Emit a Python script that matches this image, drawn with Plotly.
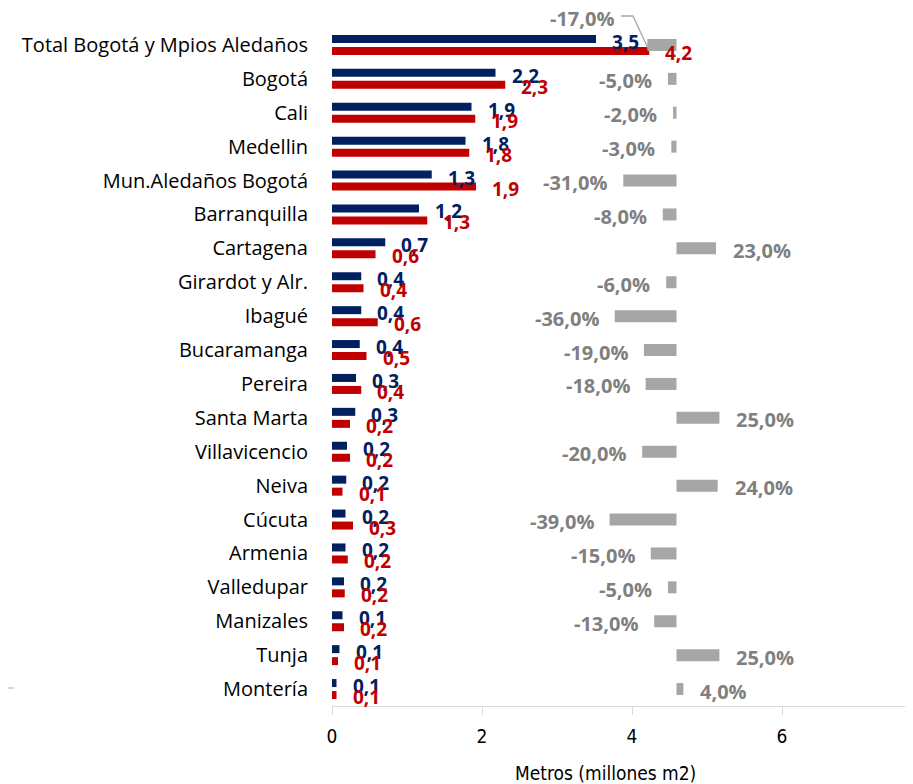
import plotly.graph_objects as go

categories = ["Total Bogotá y Mpios Aledaños", "Bogotá", "Cali", "Medellin",
              "Mun.Aledaños Bogotá", "Barranquilla", "Cartagena", "Girardot y Alr.",
              "Ibagué", "Bucaramanga", "Pereira", "Santa Marta", "Villavicencio",
              "Neiva", "Cúcuta", "Armenia", "Valledupar", "Manizales", "Tunja", "Montería"]
serie_azul = [3.52, 2.18, 1.86, 1.78, 1.33, 1.16, 0.71, 0.39, 0.39, 0.37,
              0.32, 0.31, 0.20, 0.19, 0.18, 0.18, 0.16, 0.14, 0.10, 0.06]
serie_roja = [4.23, 2.31, 1.91, 1.83, 1.92, 1.27, 0.58, 0.42, 0.61, 0.46,
              0.39, 0.24, 0.24, 0.14, 0.28, 0.21, 0.17, 0.16, 0.08, 0.06]
variacion = [-17, -5, -2, -3, -31, -8, 23, -6, -36, -19,
             -18, 25, -20, 24, -39, -15, -5, -13, 25, 4]
x_ticks = [0, 2, 4, 6]
x_title = "Metros (millones m2)"

AZUL = "#002060"
ROJO = "#C00000"
GRIS_BAR = "#A6A6A6"
GRIS_TXT = "#7F7F7F"
FONT = "Open Sans, Noto Sans, DejaVu Sans, sans-serif"
NARROW = "Liberation Sans Narrow, DejaVu Sans Condensed, Arial Narrow, sans-serif"

# the page body adds an 8px offset; work in screen pixels and subtract it
OFF = 8
SCR_W, SCR_H = 913, 784
PLOT_L, PLOT_R, PLOT_T, PLOT_B = 332, 913, 28, 706   # screen pixels
W, H = SCR_W - OFF, SCR_H - OFF
L = PLOT_L - OFF
R = SCR_W - PLOT_R
T = PLOT_T - OFF
B = SCR_H - PLOT_B
plot_w = PLOT_R - PLOT_L
plot_h = PLOT_B - PLOT_T
row_px = plot_h / len(categories)
px_per_unit = 75.0
PCT_ZERO = 676.5
pct_zero_px = PCT_ZERO - PLOT_L
px_per_pct = 1.716

def px_x(sx):
    return (sx - PLOT_L) / plot_w

def px_y(sy):
    return (PLOT_B - sy) / plot_h

fig = go.Figure()
fig.add_trace(go.Bar(y=categories, x=serie_azul, orientation="h", marker_color=AZUL,
                     offset=-10 / row_px, width=8 / row_px, name="azul",
                     marker_line_width=0, hoverinfo="x+y"))
fig.add_trace(go.Bar(y=categories, x=serie_roja, orientation="h", marker_color=ROJO,
                     offset=2 / row_px, width=8 / row_px, name="roja",
                     marker_line_width=0, hoverinfo="x+y"))
fig.add_trace(go.Bar(y=categories, x=variacion, orientation="h", marker_color=GRIS_BAR,
                     offset=-6 / row_px, width=12 / row_px, xaxis="x2", name="var",
                     marker_line_width=0, hoverinfo="x+y"))

def fmt(v, dec=1):
    return f"{v:.{dec}f}".replace(".", ",")

annotations = []
shapes = []
for i, cat in enumerate(categories):
    annotations.append(dict(x=serie_azul[i], y=cat, xref="x", yref="y", text=fmt(serie_azul[i]),
                            showarrow=False, xanchor="left", yanchor="middle", xshift=14, yshift=3,
                            font=dict(family=FONT, size=19, color=AZUL, weight="bold")))
    annotations.append(dict(x=serie_roja[i], y=cat, xref="x", yref="y", text=fmt(serie_roja[i]),
                            showarrow=False, xanchor="left", yanchor="middle", xshift=14, yshift=-8,
                            font=dict(family=FONT, size=19, color=ROJO, weight="bold")))
    v = variacion[i]
    txt = fmt(v) + "%"
    gfont = dict(family=FONT, size=20, color=GRIS_TXT, weight="bold")
    if i == 0:
        # label displaced above, with an elbow leader line to the bar end
        bar_end_px = PCT_ZERO + v * px_per_pct
        annotations.append(dict(x=v, y=cat, xref="x2", yref="y", text=txt, showarrow=False,
                                xanchor="right", yanchor="middle", xshift=-(bar_end_px - 616),
                                yshift=26, font=gfont))
        shapes.append(dict(type="path", xref="paper", yref="paper",
                           path=(f"M {px_x(621)} {px_y(16)} L {px_x(633)} {px_y(16)} "
                                 f"L {px_x(bar_end_px + 1)} {px_y(49)}"),
                           line=dict(color="#A6A6A6", width=1.3)))
    elif v < 0:
        annotations.append(dict(x=v, y=cat, xref="x2", yref="y", text=txt, showarrow=False,
                                xanchor="right", yanchor="middle", xshift=-14, yshift=-2, font=gfont))
    else:
        annotations.append(dict(x=v, y=cat, xref="x2", yref="y", text=txt, showarrow=False,
                                xanchor="left", yanchor="middle", xshift=15, yshift=-2, font=gfont))

annotations.append(dict(x=px_x(605), y=px_y(773), xref="paper", yref="paper",
                        text=x_title, showarrow=False, xanchor="center", yanchor="middle",
                        font=dict(family=NARROW, size=19, color="#000000")))

shapes.append(dict(type="line", xref="paper", yref="paper",
                   x0=px_x(OFF), x1=px_x(14), y0=px_y(688), y1=px_y(688),
                   line=dict(color="#D9D9D9", width=2)))

fig.update_layout(
    width=W, height=H,
    margin=dict(l=L, r=R, t=T, b=B, pad=0, autoexpand=False),
    barmode="overlay",
    showlegend=False,
    plot_bgcolor="white", paper_bgcolor="white",
    xaxis=dict(range=[0, plot_w / px_per_unit], tickvals=x_ticks, ticktext=[str(t) for t in x_ticks],
               showgrid=False, zeroline=False, showline=True, linecolor="#D9D9D9", linewidth=1,
               ticks="outside", ticklen=8, tickcolor="#D9D9D9", tickwidth=1, ticklabelstandoff=5,
               tickfont=dict(family=NARROW, size=19, color="#000000"), fixedrange=True),
    xaxis2=dict(overlaying="x", side="top", visible=False,
                range=[-pct_zero_px / px_per_pct, (plot_w - pct_zero_px) / px_per_pct],
                showgrid=False, zeroline=False),
    yaxis=dict(type="category", categoryorder="array", categoryarray=categories,
               range=[len(categories) - 0.5, -0.5], showgrid=False, zeroline=False,
               showline=False, ticks="", ticklabelstandoff=23,
               tickfont=dict(family=FONT, size=20, color="#000000")),
    annotations=annotations,
    shapes=shapes,
)

fig.write_html("out.html")
